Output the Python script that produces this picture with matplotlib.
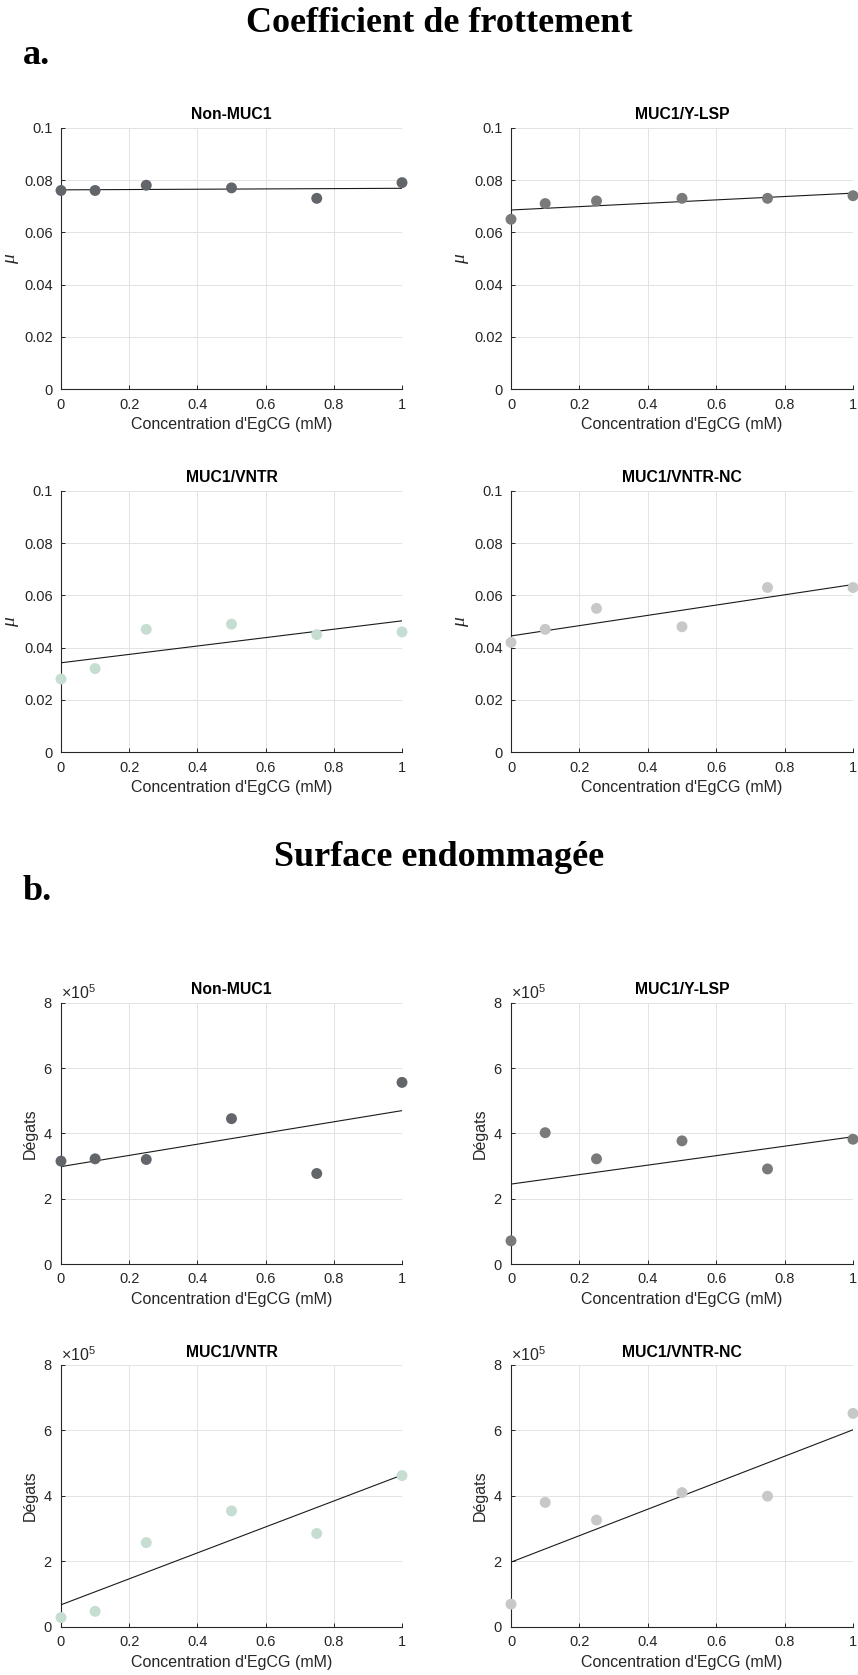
import numpy as np
import matplotlib
matplotlib.use("Agg")
import matplotlib.pyplot as plt
from matplotlib.ticker import FuncFormatter, ScalarFormatter

plt.rcParams['font.family'] = ['Liberation Sans', 'DejaVu Sans']
plt.rcParams['mathtext.fontset'] = 'custom'
plt.rcParams['mathtext.rm'] = 'Liberation Sans'
plt.rcParams['mathtext.it'] = 'Liberation Serif:italic'

# ---------------- data ----------------
conc = [0, 0.1, 0.25, 0.5, 0.75, 1]
groups = ["Non-MUC1", "MUC1/Y-LSP", "MUC1/VNTR", "MUC1/VNTR-NC"]
colors = ["#62666b", "#7a7a7a", "#c6ddd2", "#c8c8c8"]

mu_non_muc1 = [0.076, 0.076, 0.078, 0.077, 0.073, 0.079]
mu_y_lsp = [0.065, 0.071, 0.072, 0.073, 0.073, 0.074]
mu_vntr = [0.028, 0.032, 0.047, 0.049, 0.045, 0.046]
mu_vntr_nc = [0.042, 0.047, 0.055, 0.048, 0.063, 0.063]

deg_non_muc1 = [3.15e5, 3.22e5, 3.20e5, 4.45e5, 2.77e5, 5.56e5]
deg_y_lsp = [0.71e5, 4.02e5, 3.22e5, 3.77e5, 2.91e5, 3.82e5]
deg_vntr = [0.28e5, 0.47e5, 2.57e5, 3.54e5, 2.85e5, 4.62e5]
deg_vntr_nc = [0.69e5, 3.80e5, 3.26e5, 4.10e5, 3.99e5, 6.52e5]

x_ticks = [0, 0.2, 0.4, 0.6, 0.8, 1]
mu_ticks = [0, 0.02, 0.04, 0.06, 0.08, 0.1]
deg_ticks = [0, 2e5, 4e5, 6e5, 8e5]

xlabel = "Concentration d'EgCG (mM)"
header_a = "Coefficient de frottement"
header_b = "Surface endommagée"

# ---------------- figure ----------------
W, H = 858, 1675
fig = plt.figure(figsize=(W / 100, H / 100), dpi=100)

def frac_rect(x0, y0, x1, y1):
    return [x0 / W, 1 - y1 / H, (x1 - x0) / W, (y1 - y0) / H]

cols = [(61, 402), (511, 853)]
rows = [(127.7, 389.3), (490.7, 752.3), (1002.7, 1264.0), (1365.0, 1626.7)]

TXT = "#262626"
GRID = "#e3e3e3"

def gfmt(v, pos):
    return "%g" % v

def style(ax, kind):
    ax.set_xlim(0, 1)
    ax.set_xticks(x_ticks)
    ax.xaxis.set_major_formatter(FuncFormatter(gfmt))
    if kind == "mu":
        ax.set_ylim(0, 0.1)
        ax.set_yticks(mu_ticks)
        ax.yaxis.set_major_formatter(FuncFormatter(gfmt))
        ax.set_ylabel(r"$\mu$", fontsize=14, color=TXT, labelpad=2)
    else:
        ax.set_ylim(0, 8e5)
        ax.set_yticks(deg_ticks)
        fmt = ScalarFormatter(useMathText=True)
        fmt.set_powerlimits((0, 0))
        ax.yaxis.set_major_formatter(fmt)
        ax.yaxis.get_offset_text().set_fontsize(11.5)
        ax.yaxis.get_offset_text().set_color("#555555")
        ax.set_ylabel("Dégats", fontsize=11.5, color=TXT, labelpad=4)
    ax.grid(True, color=GRID, lw=0.7)
    ax.set_axisbelow(True)
    for s in ("top", "right"):
        ax.spines[s].set_visible(False)
    for s in ("left", "bottom"):
        ax.spines[s].set_color(TXT)
        ax.spines[s].set_linewidth(0.8)
    ax.tick_params(direction="in", length=3, width=0.7, color=TXT,
                   labelsize=10.5, labelcolor=TXT, pad=6)
    ax.set_xlabel(xlabel, fontsize=11.5, color=TXT, labelpad=4)

mu_data = [mu_non_muc1, mu_y_lsp, mu_vntr, mu_vntr_nc]
deg_data = [deg_non_muc1, deg_y_lsp, deg_vntr, deg_vntr_nc]

xfit = np.array([0.0, 1.0])
for block, (data, kind) in enumerate([(mu_data, "mu"), (deg_data, "deg")]):
    for i, (name, y, c) in enumerate(zip(groups, data, colors)):
        r = rows[block * 2 + i // 2]
        cx = cols[i % 2]
        ax = fig.add_axes(frac_rect(cx[0], r[0], cx[1], r[1]))
        style(ax, kind)
        slope, icpt = np.polyfit(conc, y, 1)
        ax.plot(xfit, icpt + slope * xfit, color="#1a1a1a", lw=0.8, zorder=3)
        ax.scatter(conc, y, s=62, color=c, edgecolors="none", zorder=4, clip_on=False)
        ax.set_title(name, fontsize=11.3, fontweight="bold", color="black", pad=6)

# headers
fig.text(439 / W, 1 - 24 / H, header_a, family="Liberation Serif", fontweight="bold",
         fontsize=26, ha="center", va="center")
fig.text(23 / W, 1 - 56 / H, "a.", family="Liberation Serif", fontweight="bold",
         fontsize=26, ha="left", va="center")
fig.text(439 / W, 1 - 857 / H, header_b, family="Liberation Serif", fontweight="bold",
         fontsize=26, ha="center", va="center")
fig.text(23 / W, 1 - 891 / H, "b.", family="Liberation Serif", fontweight="bold",
         fontsize=26, ha="left", va="center")

fig.savefig("out.png", dpi=100)
